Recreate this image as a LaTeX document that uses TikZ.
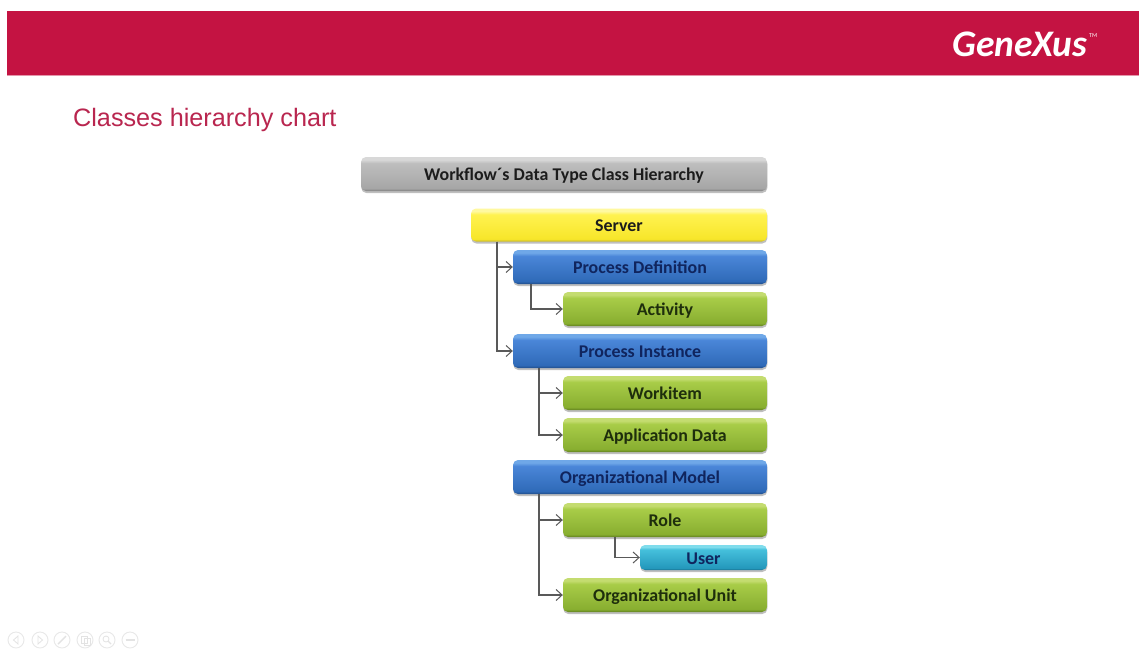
\documentclass[tikz,border=0pt]{standalone}
\usepackage{fontspec}
\setmainfont{Carlito}
\newfontfamily\titlefont{Liberation Sans}
\usetikzlibrary{arrows.meta,shadows}
\newcommand{\mkshade}[5]{%
  \pgfdeclareverticalshading{#1}{100bp}{
    color(0bp)=(#5); color(25bp)=(#5); color(29bp)=(#4); color(66bp)=(#3);
    color(71bp)=(#2); color(75bp)=(#2); color(100bp)=(#2)}}
\definecolor{bandred}{HTML}{C41342}
\definecolor{titlered}{HTML}{B9264F}
\definecolor{gA}{HTML}{D8D8D8}\definecolor{gB}{HTML}{BEBEBE}\definecolor{gC}{HTML}{A6A6A6}\definecolor{gD}{HTML}{7F7F7F}
\definecolor{yA}{HTML}{FFF9A0}\definecolor{yB}{HTML}{FFF250}\definecolor{yC}{HTML}{F7E62A}\definecolor{yD}{HTML}{C8B828}
\definecolor{bA}{HTML}{6FA8E8}\definecolor{bB}{HTML}{4A86D8}\definecolor{bC}{HTML}{2F6AB8}\definecolor{bD}{HTML}{1F4C88}
\definecolor{lA}{HTML}{C4DC70}\definecolor{lB}{HTML}{A8CC48}\definecolor{lC}{HTML}{88AE30}\definecolor{lD}{HTML}{5F7E1E}
\definecolor{cA}{HTML}{7FDCEC}\definecolor{cB}{HTML}{45C0DC}\definecolor{cC}{HTML}{2498BC}\definecolor{cD}{HTML}{176E8C}
\definecolor{txtdark}{HTML}{1C1C1C}
\definecolor{txtblue}{HTML}{10255E}
\definecolor{txtlime}{HTML}{1E2E0C}
\mkshade{shgray}{gA}{gB}{gC}{gD}
\mkshade{shyellow}{yA}{yB}{yC}{yD}
\mkshade{shblue}{bA}{bB}{bC}{bD}
\mkshade{shlime}{lA}{lB}{lC}{lD}
\mkshade{shcyan}{cA}{cB}{cC}{cD}
\tikzset{
  x=1pt,y=-1pt,
  classbox/.style={rounded corners=5pt,inner sep=0pt,text height=13.5pt,text depth=0.5pt,
    font=\fontsize{17.9}{20}\selectfont\bfseries,
    drop shadow={shadow xshift=0.3pt,shadow yshift=-2pt,opacity=.25,fill=black}},
  graybox/.style={classbox,shading=shgray,text=txtdark},
  yellowbox/.style={classbox,shading=shyellow,text=txtdark},
  bluebox/.style={classbox,shading=shblue,text=txtblue},
  limebox/.style={classbox,shading=shlime,text=txtlime},
  cyanbox/.style={classbox,shading=shcyan,text=txtblue},
  wide/.style={minimum width=254pt,minimum height=34pt},
  mid/.style={minimum width=204pt,minimum height=34pt},
  conn/.style={draw=black!65,line width=1.3pt,-{Straight Barb[length=6pt,width=11pt,line width=1pt]}},
  ctrl/.style={draw=black!9,line width=.9pt,fill=white,circle,minimum size=16pt,inner sep=0pt},
  glyph/.style={draw=black!11,line width=.8pt},
}
\begin{document}
\begin{tikzpicture}
\useasboundingbox (0,0) rectangle (1139,648);
\fill[white] (0,0) rectangle (1139,648);
% band
\fill[bandred] (7,11) rectangle (1139,75);
\fill[bandred!45] (7,75) rectangle (1139,76);
\node[text=white,font=\fontsize{37.5}{40}\selectfont\itshape\bfseries,inner sep=0pt,anchor=base west] (logo) at (952,56) {GeneXus};
\node[text=white,font=\fontsize{6}{7}\selectfont,inner sep=0pt,anchor=west] (tm) at (1089,36) {TM};
\node[text=titlered,font=\titlefont\fontsize{25.2}{28}\selectfont,inner sep=0pt,anchor=base west] (title) at (73,126) {Classes hierarchy chart};
% boxes
\node[graybox,minimum width=406pt,minimum height=34pt] (hdr) at (564,174) {Workflow´s Data Type Class Hierarchy};
\node[yellowbox,minimum width=296pt,minimum height=33pt] (server) at (619,225) {Server};
\node[bluebox,wide] (pd) at (640,267) {Process Definition};
\node[limebox,mid] (act) at (665,309) {Activity};
\node[bluebox,wide] (pi) at (640,351) {Process Instance};
\node[limebox,mid] (wi) at (665,393) {Workitem};
\node[limebox,mid] (app) at (665,435) {Application Data};
\node[bluebox,wide] (om) at (640,477) {Organizational Model};
\node[limebox,mid] (role) at (665,520) {Role};
\node[cyanbox,minimum width=127pt,minimum height=25pt] (user) at (703.5,557.5) {User};
\node[limebox,mid] (ou) at (665,595) {Organizational Unit};
% connectors
\coordinate (sT) at (497,241.5);
\coordinate (pdT) at (531,284);
\coordinate (piT) at (539,368);
\coordinate (omT) at (539,494);
\coordinate (roleT) at (615,537);
\draw[conn] (sT) |- (pd.west);
\draw[conn] (sT) |- (pi.west);
\draw[conn] (pdT) |- (act.west);
\draw[conn] (piT) |- (wi.west);
\draw[conn] (piT) |- (app.west);
\draw[conn] (omT) |- (role.west);
\draw[conn] (omT) |- (ou.west);
\draw[conn] (roleT) |- (user.west);
% slide-show controls
\foreach \n/\cx in {a/16,b/40,c/62,d/85,e/107,f/130}{
  \node[ctrl] (ctl\n) at (\cx,640) {};
}
\draw[glyph] (18,636) -- (13.5,640) -- (18,644) -- cycle;
\draw[glyph] (38,636) -- (42.5,640) -- (38,644) -- cycle;
\draw[glyph,line width=1.4pt] (58,644) -- (66,636);
\draw[glyph] (81,636) rectangle (87,643);
\draw[glyph] (84,638) rectangle (90,645);
\draw[glyph] (106,639) circle (3pt);
\draw[glyph,line width=1.2pt] (108.2,641.2) -- (111,644);
\draw[glyph,line width=1.2pt] (125.5,640) -- (134.5,640);
\end{tikzpicture}
\end{document}
